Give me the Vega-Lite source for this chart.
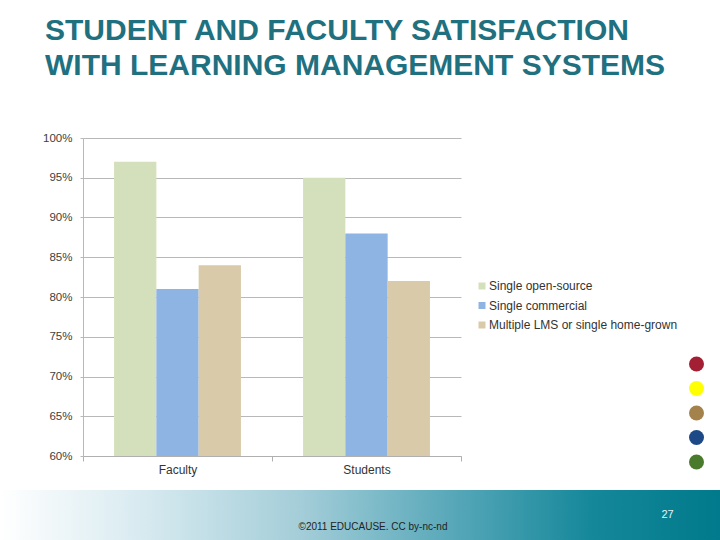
{
  "$schema": "https://vega.github.io/schema/vega-lite/v6.json",
  "background": "white",
  "padding": {"top": 16, "left": 0, "right": 0, "bottom": 0},
  "title": {
    "text": ["STUDENT AND FACULTY SATISFACTION", "WITH LEARNING MANAGEMENT SYSTEMS"],
    "anchor": "start",
    "dx": 45,
    "offset": 51,
    "font": "Liberation Sans",
    "fontSize": 30,
    "fontWeight": "bold",
    "lineHeight": 35,
    "color": "#1f717f"
  },
  "config": {
    "font": "Liberation Sans",
    "view": {"stroke": null}
  },
  "spacing": 15,
  "vconcat": [
    {
      "spacing": 0,
      "hconcat": [
        {
          "width": 1,
          "height": 318,
          "data": {"values": []},
          "mark": "rect",
          "encoding": {}
        },
        {
          "width": 378,
          "height": 318,
          "layer": [
            {
              "data": {
                "values": [
                  {"group": "Faculty", "lms": "Single open-source", "pct": 0.97},
                  {"group": "Faculty", "lms": "Single commercial", "pct": 0.81},
                  {"group": "Faculty", "lms": "Multiple LMS or single home-grown", "pct": 0.84},
                  {"group": "Students", "lms": "Single open-source", "pct": 0.95},
                  {"group": "Students", "lms": "Single commercial", "pct": 0.88},
                  {"group": "Students", "lms": "Multiple LMS or single home-grown", "pct": 0.82}
                ]
              },
              "mark": {"type": "bar", "clip": true},
              "encoding": {
                "x": {
                  "field": "group",
                  "type": "nominal",
                  "sort": ["Faculty", "Students"],
                  "scale": {"paddingInner": 0, "paddingOuter": 0},
                  "axis": {
                    "title": null,
                    "labelAngle": 0,
                    "tickBand": "extent",
                    "tickSize": 5,
                    "domainColor": "#b0b0b0",
                    "tickColor": "#b0b0b0",
                    "labelFontSize": 12,
                    "labelColor": "#333333",
                    "labelPadding": 3,
                    "grid": false
                  }
                },
                "xOffset": {
                  "field": "lms",
                  "type": "nominal",
                  "sort": ["Single open-source", "Single commercial", "Multiple LMS or single home-grown"],
                  "scale": {"paddingInner": 0, "paddingOuter": 0.734}
                },
                "y": {
                  "field": "pct",
                  "type": "quantitative",
                  "scale": {"domain": [0.6, 1], "zero": false, "nice": false},
                  "axis": {
                    "title": null,
                    "values": [0.6, 0.65, 0.7, 0.75, 0.8, 0.85, 0.9, 0.95, 1],
                    "format": ".0%",
                    "grid": true,
                    "gridColor": "#b8b8b8",
                    "domainColor": "#b8b8b8",
                    "tickColor": "#b8b8b8",
                    "tickSize": 3,
                    "labelPadding": 8,
                    "labelFontSize": 11.5,
                    "labelColor": "#404040",
                    "minExtent": 82
                  }
                },
                "color": {
                  "field": "lms",
                  "type": "nominal",
                  "scale": {
                    "domain": ["Single open-source", "Single commercial", "Multiple LMS or single home-grown"],
                    "range": ["#d4e0bb", "#8eb4e3", "#d9cba9"]
                  },
                  "legend": {
                    "orient": "none",
                    "legendX": 476,
                    "legendY": 142,
                    "title": null,
                    "symbolType": "square",
                    "symbolSize": 49,
                    "symbolStrokeWidth": 0,
                    "labelFontSize": 12,
                    "labelColor": "#333333",
                    "labelOffset": 1,
                    "labelLimit": 0,
                    "rowPadding": 7.5
                  }
                }
              }
            },
            {
              "data": {"values": []},
              "mark": {"type": "point", "filled": true, "opacity": 1},
              "encoding": {
                "fill": {
                  "field": "dot",
                  "type": "nominal",
                  "scale": {
                    "domain": ["a", "b", "c", "d", "e"],
                    "range": ["#a31f34", "#ffff00", "#a4824c", "#1d4a87", "#4a7a2c"]
                  },
                  "legend": {
                    "orient": "none",
                    "legendX": 689,
                    "legendY": 218.5,
                    "title": null,
                    "symbolType": "circle",
                    "symbolSize": 225,
                    "symbolStrokeWidth": 0,
                    "symbolOpacity": 1,
                    "labelExpr": "''",
                    "labelFontSize": 1,
                    "rowPadding": 9.5
                  }
                }
              }
            }
          ]
        }
      ]
    },
    {
      "width": 720,
      "height": 50,
      "data": {"values": [{"label": "©2011 EDUCAUSE. CC by-nc-nd"}]},
      "mark": {
        "type": "rect",
        "color": {
          "gradient": "linear",
          "x1": 0, "y1": 0, "x2": 1, "y2": 0,
          "stops": [
            {"offset": 0, "color": "#ffffff"},
            {"offset": 0.2, "color": "#d7eaf0"},
            {"offset": 0.42, "color": "#a3cdd8"},
            {"offset": 0.62, "color": "#5aa9ba"},
            {"offset": 0.82, "color": "#15889a"},
            {"offset": 1, "color": "#007a8c"}
          ]
        }
      },
      "encoding": {
        "x": {
          "field": "label",
          "type": "nominal",
          "scale": {"paddingInner": 0, "paddingOuter": 0},
          "axis": {
            "orient": "bottom",
            "offset": -19,
            "domain": false,
            "ticks": false,
            "grid": false,
            "labelAngle": 0,
            "labelLimit": 0,
            "labelPadding": 0,
            "labelOffset": 13,
            "labelFontSize": 10,
            "labelColor": "#222222",
            "title": "27",
            "titleX": 667,
            "titleY": -7,
            "titleAlign": "center",
            "titleBaseline": "middle",
            "titleFontSize": 11,
            "titleFontWeight": "normal",
            "titleColor": "#e6f2f4"
          }
        }
      }
    }
  ]
}
